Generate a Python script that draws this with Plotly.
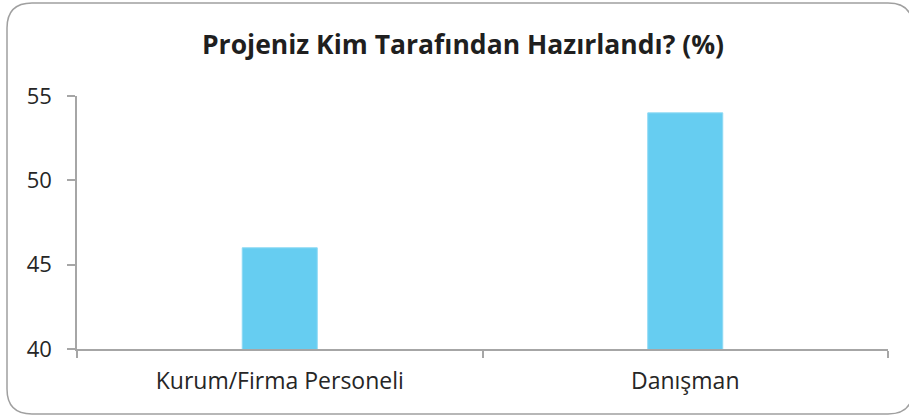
import plotly.graph_objects as go

categories = ["Kurum/Firma Personeli", "Danışman"]
values = [46, 54]
y_ticks = [40, 45, 50, 55]

W, H = 909, 419
L, R, T, B = 77, 888, 96, 349


def px(x):
    return (x - L) / (R - L)


def py(y):
    return (B - y) / (B - T)


fig = go.Figure(
    go.Bar(
        x=categories,
        y=values,
        width=0.185,
        marker=dict(color="#66CDF1", line=dict(color="#8ED9F4", width=1)),
        hoverinfo="x+y",
    )
)

# rounded border
x0, x1, y0, y1, r = 7, 913, 3, 414, 25
path = (
    f"M {px(x0 + r)} {py(y0)} L {px(x1 - r)} {py(y0)} "
    f"Q {px(x1)} {py(y0)} {px(x1)} {py(y0 + r)} "
    f"L {px(x1)} {py(y1 - r)} Q {px(x1)} {py(y1)} {px(x1 - r)} {py(y1)} "
    f"L {px(x0 + r)} {py(y1)} Q {px(x0)} {py(y1)} {px(x0)} {py(y1 - r)} "
    f"L {px(x0)} {py(y0 + r)} Q {px(x0)} {py(y0)} {px(x0 + r)} {py(y0)} Z"
)

axis_color = "#A6A6A6"
fig.update_layout(
    width=W,
    height=H,
    margin=dict(l=L, r=W - R, t=T, b=H - B),
    paper_bgcolor="white",
    plot_bgcolor="white",
    showlegend=False,
    font=dict(family="Open Sans", color="#262626"),
    title=dict(
        text="<b>Projeniz Kim Tarafından Hazırlandı? (%)</b>",
        x=463 / W,
        xanchor="center",
        y=1 - 45 / H,
        yanchor="middle",
        font=dict(size=26.5, family="Open Sans", color="#1F1F1F"),
    ),
    shapes=[
        dict(
            type="path",
            path=path,
            xref="paper",
            yref="paper",
            line=dict(color="#A0A0A0", width=1.5),
            layer="below",
        )
    ],
)

fig.update_yaxes(
    range=[40, 55],
    tickvals=y_ticks,
    showgrid=False,
    zeroline=False,
    showline=True,
    linecolor=axis_color,
    linewidth=1.5,
    ticks="outside",
    ticklen=8,
    tickwidth=1.5,
    tickcolor=axis_color,
    tickfont=dict(size=22, color="#262626"),
    ticklabelstandoff=11,
)
fig.update_xaxes(
    showgrid=False,
    showline=True,
    linecolor=axis_color,
    linewidth=1.5,
    ticks="outside",
    tickson="boundaries",
    ticklen=7,
    tickwidth=1.5,
    tickcolor=axis_color,
    tickfont=dict(size=23, color="#262626"),
    ticklabelstandoff=11,
)

fig.write_html(
    "out.html",
    config={"displayModeBar": False},
    post_script="document.body.style.margin='0';document.body.style.overflow='hidden';",
)
